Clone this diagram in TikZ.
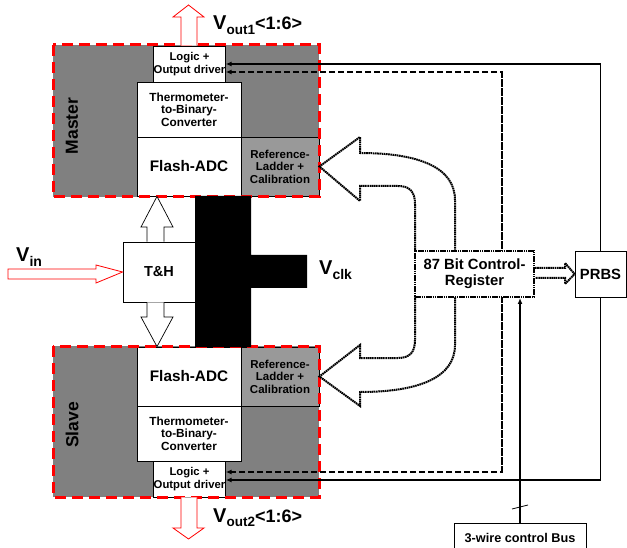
\documentclass[tikz,border=0pt]{standalone}
\usepackage{fontspec}
\setmainfont{Liberation Sans}
\usetikzlibrary{arrows.meta}
\definecolor{blockgray}{HTML}{808080}
\definecolor{refgray}{HTML}{999999}
\definecolor{redline}{HTML}{FF0000}
\newcommand{\fs}[1]{\fontsize{#1}{#1}\selectfont}
\begin{document}
\begin{tikzpicture}[x=1pt,y=-1pt,
  box/.style={draw=black,line width=0.8pt,fill=white,inner sep=0pt,align=center,font=\bfseries},
  refbox/.style={box,fill=refgray},
  region/.style={fill=blockgray},
  redborder/.style={draw=redline,line width=3pt,dash pattern=on 11pt off 6pt},
  redarrow/.style={draw=redline,line width=0.8pt,fill=white},
  whitearrow/.style={draw=black,line width=0.7pt,fill=white},
  dotline/.style={draw=black,line width=2pt,dash pattern=on 1.6pt off 0.6pt},
  conn/.style={draw=black,line width=1.4pt,-{Latex[length=6pt,width=5pt]}},
  dconn/.style={conn,line width=1.6pt,dash pattern=on 6pt off 3pt},
  lbl/.style={anchor=base west,inner sep=0pt,font=\bfseries}
]
\useasboundingbox (0,0) rectangle (627,548);

% regions
\path[region] (53,45) rectangle (319,197);
\path[region] (53,346) rectangle (319,497);

% master blocks
\node[box,minimum width=69pt,minimum height=36pt,font=\bfseries\fs{11.3}] (mlogic) at (189.5,64) {Logic +\\[1pt]Output driver};
\node[box,minimum width=104pt,minimum height=55pt,font=\bfseries\fs{11.8}] (mtherm) at (189,109.5) {Thermometer-\\[0.5pt]to-Binary-\\[0.5pt]Converter};
\node[box,minimum width=104pt,minimum height=59pt,font=\bfseries\fs{15.3}] (mflash) at (189,166.5) {Flash-ADC};
\node[refbox,minimum width=78pt,minimum height=59pt,font=\bfseries\fs{11.5}] (mref) at (280,166.5) {Reference-\\[1pt]Ladder +\\[1pt]Calibration};
\node[rotate=90,font=\bfseries\fs{17.5},inner sep=0pt] (mlab) at (72,126) {Master};

% slave blocks
\node[box,minimum width=104pt,minimum height=59pt,font=\bfseries\fs{15.3}] (sflash) at (189,376.5) {Flash-ADC};
\node[refbox,minimum width=78pt,minimum height=59pt,font=\bfseries\fs{11.5}] (sref) at (280,376.5) {Reference-\\[1pt]Ladder +\\[1pt]Calibration};
\node[box,minimum width=104pt,minimum height=55pt,font=\bfseries\fs{11.8}] (stherm) at (189,433.5) {Thermometer-\\[0.5pt]to-Binary-\\[0.5pt]Converter};
\node[box,minimum width=69pt,minimum height=36pt,font=\bfseries\fs{11.3}] (slogic) at (189.5,479) {Logic +\\[1pt]Output driver};
\node[rotate=90,font=\bfseries\fs{17.5},inner sep=0pt] (slab) at (72,425) {Slave};

% red borders
\draw[redborder] (53,45) rectangle (319,197);
\draw[redborder] (53,346) rectangle (319,497);

% clock shape
\fill[black] (195,196) -- (251,196) -- (251,255) -- (307,255) -- (307,288) -- (251,288) -- (251,347) -- (195,347) -- cycle;

% T&H
\node[box,minimum width=72pt,minimum height=60pt,font=\bfseries\fs{14.5}] (th) at (159,272) {T\&H};

% white arrows T&H -> flash
\draw[whitearrow] (th.north -| 147,0) -- (147,227) -- (141,227) -- (mflash.south -| 157,0) -- (173,227) -- (164,227) -- (th.north -| 164,0);
\draw[whitearrow] (th.south -| 147,0) -- (147,317) -- (141,317) -- (sflash.north -| 157,0) -- (173,317) -- (164,317) -- (th.south -| 164,0);

% red arrows
\draw[redarrow] (mlogic.north -| 181,0) -- (181,17) -- (173,17) -- (188.5,5) -- (204,17) -- (197,17) -- (mlogic.north -| 197,0);
\draw[redarrow] (slogic.south -| 181,0) -- (181,528) -- (173,528) -- (188.5,539) -- (204,528) -- (197,528) -- (slogic.south -| 197,0);
\draw[redarrow] (8,269) -- (96,269) -- (96,265) -- (th.west) -- (96,283) -- (96,279) -- (8,279) -- cycle;

% curved big arrows
\draw[dotline,fill=white] (415,252) -- (415,204) .. controls (415,192) and (410,186) .. (398,186) -- (360,186) -- (360,201) -- (mref.east) -- (360,137) -- (360,153) .. controls (420,153) and (455,168) .. (455,200) -- (455,252);
\draw[dotline,fill=white] (415,296) -- (415,340) .. controls (415,352) and (410,358) .. (398,358) -- (360,358) -- (360,345) -- (sref.east) -- (360,406) -- (360,392) .. controls (420,392) and (455,377) .. (455,345) -- (455,296);

% connectors
\coordinate (dtop) at (502,72);
\coordinate (dbot) at (502,472);
\draw[dconn] (dbot) -- (dtop) -- (dtop -| mlogic.east);
\draw[dconn] (dtop) -- (dbot) -- (dbot -| slogic.east);

% PRBS
\node[box,minimum width=51pt,minimum height=46pt,font=\bfseries\fs{14.8}] (prbs) at (600.5,274) {PRBS};
\draw[conn] (prbs.north) |- (mlogic.east);
\draw[conn] (prbs.south) |- ([yshift=-1pt]slogic.east);

% control register
\node[box,dotline,minimum width=119pt,minimum height=46pt,font=\bfseries\fs{14.8},align=center] (reg) at (474.5,274) {87 Bit Control-\\[1pt]Register};
\draw[dotline,fill=white] (reg.east |- 0,268) -- (565,268) -- (565,263) -- (prbs.west) -- (565,284) -- (565,278) -- (reg.east |- 0,278);

% bus
\node[box,minimum width=132pt,minimum height=30pt,font=\bfseries\fs{12.7}] (bus) at (520,538) {3-wire control Bus};
\draw[conn] (bus.north) -- (bus.north |- reg.south);
\draw[line width=0.8pt] (512,509) -- (528,505);

% labels
\node[lbl] (vout1) at (213,30) {\fs{20}V\raisebox{-4.5pt}{\fs{13.5}out1}\fs{18}<1:6>};
\node[lbl] (vout2) at (213,522) {\fs{20}V\raisebox{-4.5pt}{\fs{13.5}out2}\fs{18}<1:6>};
\node[lbl] (vclk) at (319,275) {\fs{20}V\raisebox{-4.5pt}{\fs{14}clk}};
\node[lbl] (vin) at (16,262) {\fs{20}V\raisebox{-4.5pt}{\fs{14}in}};
\end{tikzpicture}
\end{document}
